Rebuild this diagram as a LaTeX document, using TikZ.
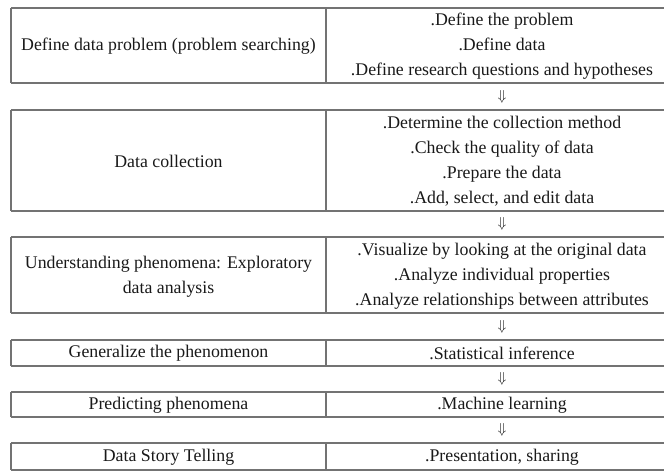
\documentclass[tikz,border=0pt]{standalone}
\usepackage{fontspec}
\setmainfont{Liberation Serif}
\begin{document}
\begin{tikzpicture}[x=1pt,y=-1pt,
  tabline/.style={draw=black!55,line width=1.1pt},
  celltext/.style={align=center,font=\fontsize{17.8}{25}\selectfont,text=black!90,inner sep=0pt},
  arrowtext/.style={font=\fontsize{14}{14}\selectfont,text=black!90,inner sep=0pt}]
\useasboundingbox (0,0) rectangle (665,471);
% horizontal rules
\foreach \y in {8,83,110,211,237,313,340,366,392,417,443,470}
  \draw[tabline] (11,\y) -- (664,\y);
% vertical rules for content rows
\foreach \a/\b in {8/83,110/211,237/313,340/366,392/417,443/470}{
  \draw[tabline] (11,\a) -- (11,\b);
  \draw[tabline] (326,\a) -- (326,\b);
}
% left column
\node[celltext] (L1) at (168.5,46) {Define data problem (problem searching)};
\node[celltext] (L2) at (168.5,161) {Data collection};
\node[celltext] (L3) at (168.5,276.5) {Understanding phenomena: Exploratory\\data analysis};
\node[celltext] (L4) at (168.5,353.5) {Generalize the phenomenon};
\node[celltext] (L5) at (168.5,405) {Predicting phenomena};
\node[celltext] (L6) at (168.5,457) {Data Story Telling};
% right column
\node[celltext] (R1) at (502,46.5) {.Define the problem\\.Define data\\.Define research questions and hypotheses};
\node[celltext] (R2) at (502,161) {.Determine the collection method\\.Check the quality of data\\.Prepare the data\\.Add, select, and edit data};
\node[celltext] (R3) at (502,276) {.Visualize by looking at the original data\\.Analyze individual properties\\.Analyze relationships between attributes};
\node[celltext] (R4) at (502,353.5) {.Statistical inference};
\node[celltext] (R5) at (502,405) {.Machine learning};
\node[celltext] (R6) at (502,457) {.Presentation, sharing};
% arrows
\node[arrowtext] (A1) at (502,96.5) {$\Downarrow$};
\node[arrowtext] (A2) at (502,224) {$\Downarrow$};
\node[arrowtext] (A3) at (502,326.5) {$\Downarrow$};
\node[arrowtext] (A4) at (502,379) {$\Downarrow$};
\node[arrowtext] (A5) at (502,430) {$\Downarrow$};
\end{tikzpicture}
\end{document}
